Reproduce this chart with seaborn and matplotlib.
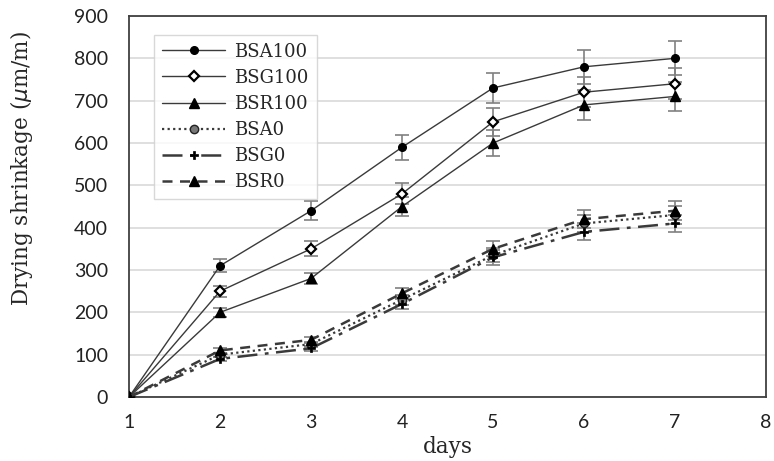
import matplotlib
matplotlib.use("Agg")
import matplotlib.pyplot as plt
import seaborn as sns

days = [1, 2, 3, 4, 5, 6, 7]
series_names = ["BSA100", "BSG100", "BSR100", "BSA0", "BSG0", "BSR0"]
bsa100 = [0, 310, 440, 590, 730, 780, 800]
bsg100 = [0, 250, 350, 480, 650, 720, 740]
bsr100 = [0, 200, 280, 450, 600, 690, 710]
bsa0 = [0, 100, 125, 230, 335, 410, 430]
bsg0 = [0, 90, 115, 220, 330, 390, 410]
bsr0 = [0, 110, 135, 245, 350, 420, 440]
err_bsa100 = [0, 15, 22, 30, 35, 40, 40]
err_bsg100 = [0, 13, 18, 25, 33, 36, 37]
err_bsr100 = [0, 10, 14, 23, 30, 35, 35]
err_bsa0 = [0, 5, 6, 12, 17, 20, 22]
err_bsg0 = [0, 5, 6, 11, 17, 20, 21]
err_bsr0 = [0, 6, 7, 12, 18, 21, 22]
y_ticks = [0, 100, 200, 300, 400, 500, 600, 700, 800, 900]
x_ticks = [1, 2, 3, 4, 5, 6, 7, 8]

values = [bsa100, bsg100, bsr100, bsa0, bsg0, bsr0]
errors = [err_bsa100, err_bsg100, err_bsr100, err_bsa0, err_bsg0, err_bsr0]

sns.set_style("white")
plt.rcParams["font.family"] = ["DejaVu Serif"]

fig = plt.figure(figsize=(7.74, 4.61), dpi=100)
ax = fig.add_axes([0.1667, 0.1388, 0.823, 0.8265])

line_color = "#3a3a3a"
ebar_color = "#808080"

# error bars first so lines and markers sit on top
for vals, errs in zip(values, errors):
    ax.errorbar(days, vals, yerr=errs, fmt="none", ecolor=ebar_color,
                elinewidth=1.2, capsize=5, capthick=1.2, zorder=2)

styles = {
    "BSA100": dict(marker="o", linestyle="-", lw=1.0, ms=5.5, mfc="black", mec="black", mew=1.0),
    "BSG100": dict(marker="D", linestyle="-", lw=1.0, ms=5.5, mfc="white", mec="black", mew=1.6),
    "BSR100": dict(marker="^", linestyle="-", lw=1.0, ms=7.5, mfc="black", mec="black", mew=1.0),
    "BSA0": dict(marker="o", linestyle=(0, (1, 1.5)), lw=1.6, ms=6, mfc="#777777", mec="#222222", mew=1.0),
    "BSG0": dict(marker="P", linestyle=(0, (8, 3, 1.5, 3)), lw=1.8, ms=6, mfc="black", mec="black", mew=0.5),
    "BSR0": dict(marker="^", linestyle=(0, (4, 3)), lw=1.8, ms=7.5, mfc="black", mec="black", mew=1.0),
}

for name, vals in zip(series_names, values):
    st = styles[name]
    sns.lineplot(x=days, y=vals, ax=ax, color=line_color, label=name,
                 marker=st["marker"], linestyle=st["linestyle"], linewidth=st["lw"],
                 markersize=st["ms"], markerfacecolor=st["mfc"],
                 markeredgecolor=st["mec"], markeredgewidth=st["mew"], zorder=3)

ax.set_xlim(1, 8)
ax.set_ylim(0, 900)
ax.set_xticks(x_ticks)
ax.set_yticks(y_ticks)
ax.yaxis.grid(True, color="#d9d9d9", linewidth=1.2)
ax.xaxis.grid(False)
ax.set_axisbelow(True)
for s in ax.spines.values():
    s.set_color("#404040")
    s.set_linewidth(1.3)

tick_font = {"family": ["Lato", "DejaVu Sans"], "size": 14}
ax.set_xticklabels([str(v) for v in x_ticks], fontdict=tick_font, color="#222222")
ax.set_yticklabels([str(v) for v in y_ticks], fontdict=tick_font, color="#222222")
ax.tick_params(axis="y", direction="in", length=5, color="#404040", pad=15)
ax.tick_params(axis="x", length=0, pad=12)

ax.set_xlabel("days", fontsize=15.5, family="DejaVu Serif", labelpad=4)
ax.set_ylabel(r"Drying shrinkage ($\mu$m/m)", fontsize=15.5, family="DejaVu Serif")
ax.yaxis.set_label_coords(-0.148, 0.60)

leg = ax.legend(loc="upper left", bbox_to_anchor=(0.025, 0.975), frameon=True,
                fancybox=False, edgecolor="#cfcfcf", fontsize=13, handlelength=3.5,
                borderpad=0.45, labelspacing=0.45, handletextpad=0.5)
leg.get_frame().set_linewidth(1.0)

fig.savefig("out.png", dpi=100)
